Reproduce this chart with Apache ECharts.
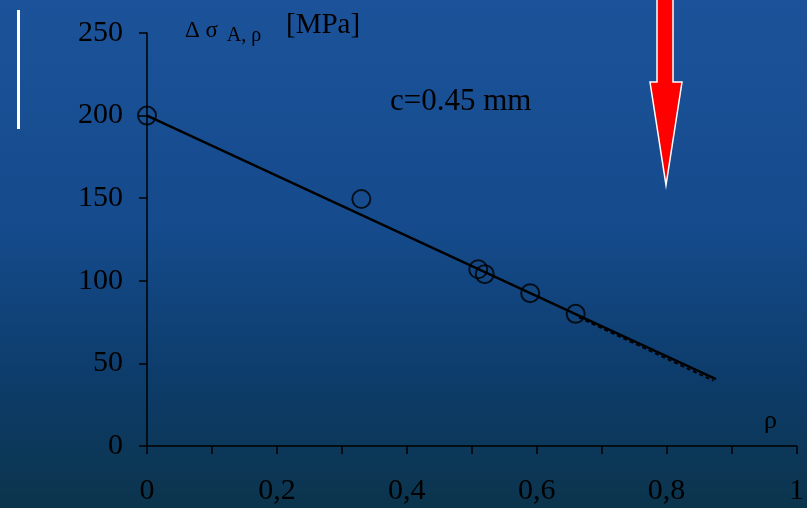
<!DOCTYPE html>
<html>
<head>
<meta charset="utf-8">
<script src="https://cdn.jsdelivr.net/npm/echarts@6/dist/echarts.min.js"></script>
<style>
  html, body { margin: 0; padding: 0; }
  #chart { width: 807px; height: 508px; }
</style>
</head>
<body>
<div id="chart"></div>
<script>
// measured points (rho, delta sigma)
const rhoPoints = [0, 0.33, 0.51, 0.52, 0.59, 0.66]
const sigmaPoints = [200, 149.5, 107, 104, 92.5, 80]

// fitted line and its dashed tail
const fitLine = [[0, 200], [0.876, 40.5]]
const fitTail = [[0.665, 77.8], [0.872, 39.5]]

const xTicks = [0, 0.2, 0.4, 0.6, 0.8, 1]
const yTicks = [0, 50, 100, 150, 200, 250]

const serif = '"Liberation Serif", "Times New Roman", serif'

const chart = echarts.init(document.getElementById('chart'))

const scatterData = rhoPoints.map((r, i) => [r, sigmaPoints[i]])

const option = {
  animation: false,
  backgroundColor: {
    type: 'linear', x: 0, y: 0, x2: 0, y2: 1,
    colorStops: [
      { offset: 0, color: '#1c5299' },
      { offset: 0.45, color: '#154b8c' },
      { offset: 0.75, color: '#0d3c6a' },
      { offset: 1, color: '#0b344c' }
    ]
  },
  grid: { left: 147, right: 6, top: 33, bottom: 62 },
  xAxis: {
    type: 'value',
    min: 0, max: 1, interval: 0.1,
    axisLine: { lineStyle: { color: '#000', width: 1.5 } },
    axisTick: { inside: false, length: 8, lineStyle: { color: '#000', width: 1.5 } },
    splitLine: { show: false },
    axisLabel: {
      margin: 30,
      color: '#000',
      fontFamily: serif,
      fontSize: 30,
      formatter: (v) => {
        let hit = xTicks.find(t => Math.abs(t - v) < 1e-6)
        if (hit === undefined) return ''
        return String(hit).replace('.', ',')
      }
    }
  },
  yAxis: {
    type: 'value',
    min: 0, max: 250, interval: 50,
    axisLine: { show: true, lineStyle: { color: '#000', width: 1.5 } },
    axisTick: { show: true, length: 8, lineStyle: { color: '#000', width: 1.5 } },
    splitLine: { show: false },
    axisLabel: {
      margin: 24,
      color: '#000',
      fontFamily: serif,
      fontSize: 30,
      formatter: (v) => yTicks.includes(v) ? String(v) : ''
    }
  },
  series: [
    {
      type: 'line',
      data: fitLine,
      symbol: 'none',
      lineStyle: { color: '#000', width: 2.4 },
      z: 3
    },
    {
      type: 'line',
      data: fitTail,
      symbol: 'none',
      lineStyle: { color: '#000', width: 1.8, type: [4, 3] },
      z: 3
    },
    {
      type: 'scatter',
      data: scatterData,
      symbol: 'circle',
      symbolSize: 18,
      itemStyle: { color: 'rgba(0,0,0,0)', borderColor: '#000', borderWidth: 2 },
      z: 4
    }
  ],
  graphic: [
    // white bar at left
    { type: 'rect', shape: { x: 17, y: 10, width: 3, height: 119 }, style: { fill: '#ffffff' } },
    // axis title
    {
      type: 'text', left: 185, top: 19,
      style: {
        text: '{a|Δ σ }{s|A, ρ}',
        rich: {
          a: { fontFamily: serif, fontSize: 23, fill: '#000' },
          s: { fontFamily: serif, fontSize: 20, fill: '#000', padding: [10, 0, 0, 3] }
        }
      }
    },
    { type: 'text', left: 286, top: 11, style: { text: '[MPa]', fontFamily: serif, fontSize: 29, fill: '#000' } },
    { type: 'text', left: 390, top: 86, style: { text: 'c=0.45 mm', fontFamily: serif, fontSize: 31, fill: '#000' } },
    { type: 'text', left: 764, top: 408, style: { text: 'ρ', fontFamily: serif, fontSize: 26, fill: '#000' } },
    // red arrow
    {
      type: 'polygon',
      shape: {
        points: [[657, -2], [673, -2], [673, 82], [682, 82], [666, 185], [650, 82], [657, 82]]
      },
      style: { fill: '#ff0000', stroke: '#ffffff', lineWidth: 1.5 }
    }
  ]
}

chart.setOption(option)
</script>
</body>
</html>
